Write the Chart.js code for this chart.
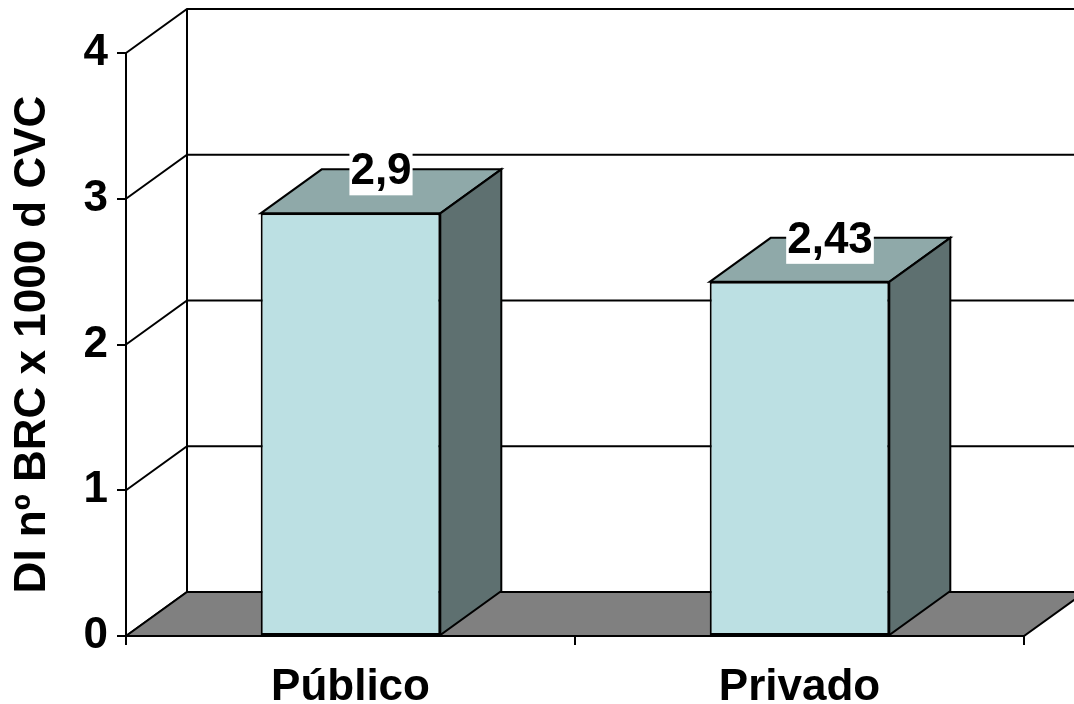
<!DOCTYPE html>
<html>
<head>
<meta charset="utf-8">
<script src="https://cdn.jsdelivr.net/npm/chart.js@4.4.1/dist/chart.umd.min.js"></script>
<style>
  html, body { margin: 0; padding: 0; background: #fff; }
  #wrap { width: 1074px; height: 704px; }
</style>
</head>
<body>
<div id="wrap"><canvas id="chart"></canvas></div>
<script>
// chart data
const categories = ['Público', 'Privado'];
const values = [2.9, 2.43];
const valueLabels = ['2,9', '2,43'];
const yTicks = [0, 1, 2, 3, 4];
const yTitle = 'DI nº BRC x 1000 d CVC';

// 3d depth offset of the back wall
const depthX = 61;
const depthY = -44;
const textFont = { family: 'Liberation Sans, Arial, sans-serif', weight: 'bold', size: 44 };

function line(ctx, pts) {
    ctx.beginPath();
    ctx.moveTo(pts[0][0], pts[0][1]);
    for (let i = 1; i < pts.length; i++) ctx.lineTo(pts[i][0], pts[i][1]);
    ctx.stroke();
}

function poly(ctx, pts, fill) {
    ctx.beginPath();
    ctx.moveTo(pts[0][0], pts[0][1]);
    for (let i = 1; i < pts.length; i++) ctx.lineTo(pts[i][0], pts[i][1]);
    ctx.closePath();
    ctx.fillStyle = fill;
    ctx.fill();
    ctx.stroke();
}

const threeD = {
    id: 'threeD',
    beforeDatasetsDraw(chart) {
        const { ctx, chartArea: a, scales: { y } } = chart;
        ctx.save();
        ctx.lineWidth = 2;
        ctx.strokeStyle = '#000';

        // back wall + left wall gridlines
        yTicks.forEach(v => {
            const py = y.getPixelForValue(v);
            line(ctx, [[a.left, py], [a.left + depthX, py + depthY], [a.right + depthX + 60, py + depthY]]);
        });
        line(ctx, [[a.left + depthX, a.top + depthY], [a.left + depthX, a.bottom + depthY]]);

        // floor
        poly(ctx, [[a.left, a.bottom], [a.left + depthX, a.bottom + depthY],
                   [a.right + depthX, a.bottom + depthY], [a.right, a.bottom]], '#808080');
        ctx.restore();
    },
    afterDatasetsDraw(chart) {
        const { ctx } = chart;
        const meta = chart.getDatasetMeta(0);
        ctx.save();
        ctx.lineWidth = 2;
        ctx.strokeStyle = '#000';
        meta.data.forEach((bar, i) => {
            const p = bar.getProps(['x', 'y', 'base', 'width'], true);
            const x0 = p.x - p.width / 2;
            const x1 = p.x + p.width / 2;
            // top face
            poly(ctx, [[x0, p.y], [x0 + depthX, p.y + depthY], [x1 + depthX, p.y + depthY], [x1, p.y]], '#8FA9A9');
            // side face
            poly(ctx, [[x1, p.y], [x1 + depthX, p.y + depthY], [x1 + depthX, p.base + depthY], [x1, p.base]], '#5E7070');

            // value label in a white box
            ctx.font = `bold ${textFont.size}px ${textFont.family}`;
            ctx.textAlign = 'center';
            ctx.textBaseline = 'middle';
            const cx = p.x + depthX / 2;
            const cy = p.y + depthY / 2 - 20;
            const tw = ctx.measureText(valueLabels[i]).width;
            ctx.fillStyle = '#fff';
            ctx.fillRect(cx - tw / 2 - 1, cy - 23, tw + 2, 47);
            ctx.fillStyle = '#000';
            ctx.fillText(valueLabels[i], cx, cy + 1);
        });
        ctx.restore();
    }
};

const ctx = document.getElementById('chart').getContext('2d');
const chart = new Chart(ctx, {
    type: 'bar',
    data: {
        labels: categories,
        datasets: [{
            data: values,
            backgroundColor: '#BCE0E3',
            borderColor: '#000',
            borderWidth: 2,
            borderSkipped: false,
            categoryPercentage: 1,
            barPercentage: 0.4
        }]
    },
    options: {
        responsive: true,
        maintainAspectRatio: false,
        animation: false,
        events: [],
        layout: { padding: { top: 53, right: 50, left: 0, bottom: 0 } },
        plugins: {
            legend: { display: false },
            tooltip: { enabled: false }
        },
        scales: {
            x: {
                offset: true,
                grid: { display: true, offset: true, drawOnChartArea: false, tickLength: 9, color: '#000', lineWidth: 2 },
                border: { display: true, color: '#000', width: 2 },
                ticks: { color: '#000', font: textFont, padding: 16, maxRotation: 0 },
                afterFit(scale) { scale.height = 68; }
            },
            y: {
                min: 0,
                max: 4,
                grid: { display: true, drawOnChartArea: false, tickLength: 9, color: '#000', lineWidth: 2 },
                border: { display: true, color: '#000', width: 2 },
                ticks: {
                    color: '#000', font: textFont, padding: 9, stepSize: 1,
                    callback: (v) => yTicks.includes(v) ? String(v) : ''
                },
                title: { display: true, text: yTitle, color: '#000', font: textFont, padding: { top: 6, bottom: 0 } },
                afterFit(scale) { scale.width = 126; }
            }
        }
    },
    plugins: [threeD]
});
</script>
</body>
</html>
